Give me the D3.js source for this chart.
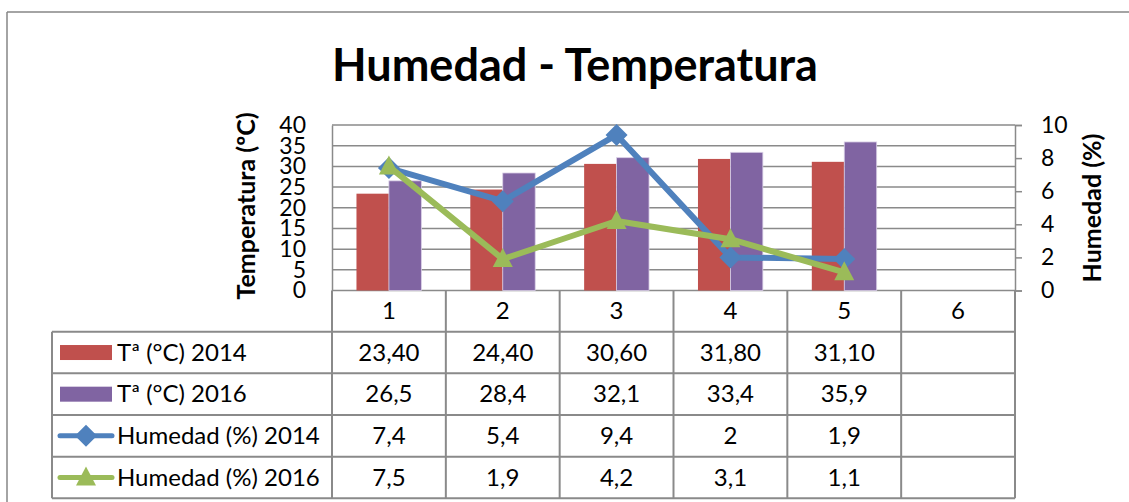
<!DOCTYPE html>
<html>
<head>
<meta charset="utf-8">
<script src="https://cdn.jsdelivr.net/npm/d3@7"></script>
<style>
  html, body { margin: 0; padding: 0; background: #fff; overflow: hidden; width: 1129px; height: 502px; }
  svg { position: absolute; left: 0; top: 0; display: block; font-family: Lato, "Open Sans", sans-serif; }
</style>
</head>
<body>
<svg id="chart" width="1129" height="502"></svg>
<script>
// ---- data ----
const categories = ["1", "2", "3", "4", "5", "6"];
const temp2014 = [23.4, 24.4, 30.6, 31.8, 31.1, null];
const temp2016 = [26.5, 28.4, 32.1, 33.4, 35.9, null];
const hum2014 = [7.4, 5.4, 9.4, 2, 1.9, null];
const hum2016 = [7.5, 1.9, 4.2, 3.1, 1.1, null];
const seriesNames = ["Tª (°C) 2014", "Tª (°C) 2016", "Humedad (%) 2014", "Humedad (%) 2016"];
const leftTicks = [0, 5, 10, 15, 20, 25, 30, 35, 40];
const rightTicks = [0, 2, 4, 6, 8, 10];
const title = "Humedad - Temperatura";
const leftTitle = "Temperatura (ºC)";
const rightTitle = "Humedad (%)";

// ---- layout ----
const svg = d3.select("#chart");
const W = 1129, H = 502;
const plot = { left: 332, right: 1015, top: 125, bottom: 290.5 };
const colors = { t14: "#C0504D", t16: "#8064A2", h14: "#4F81BD", h16: "#9BBB59" };
const gridColor = "#8a8a8a";
const fontSize = 23;
const tableFont = 24;

const x = d3.scaleBand().domain(categories).range([plot.left, plot.right]).paddingInner(0.43).paddingOuter(0.215);
const xStep = d3.scaleBand().domain(categories).range([plot.left, plot.right]);
const xSub = d3.scaleBand().domain([0, 1]).range([0, x.bandwidth()]);
const yL = d3.scaleLinear().domain([0, 40]).range([plot.bottom, plot.top]);
const yR = d3.scaleLinear().domain([0, 10]).range([plot.bottom, plot.top]);

// background
svg.append("rect").attr("x", 0).attr("y", 0).attr("width", W).attr("height", H).attr("fill", "#fff");

// outer chart border (only top and left edges are visible in the frame)
svg.append("line").attr("x1", 7).attr("x2", W).attr("y1", 12).attr("y2", 12)
  .attr("stroke", "#868686").attr("stroke-width", 1.5);
svg.append("line").attr("x1", 7).attr("x2", 7).attr("y1", 12).attr("y2", H)
  .attr("stroke", "#868686").attr("stroke-width", 1.5);

// title
svg.append("text").attr("x", 575).attr("y", 81).attr("text-anchor", "middle")
  .attr("font-weight", "bold").attr("font-size", 45).attr("fill", "#000").text(title);

// gridlines
svg.append("g").selectAll("line").data(leftTicks).join("line")
  .attr("x1", plot.left).attr("x2", plot.right)
  .attr("y1", d => yL(d)).attr("y2", d => yL(d))
  .attr("stroke", gridColor).attr("stroke-width", 1.5);

// left axis
const gL = svg.append("g").attr("transform", `translate(${plot.left},0)`)
  .call(d3.axisLeft(yL).tickValues(leftTicks).tickSize(0).tickPadding(26));
gL.select(".domain").attr("stroke", gridColor).attr("stroke-width", 1.5);
gL.selectAll("text").attr("font-size", fontSize).attr("font-family", "Lato").attr("fill", "#000");

// right axis
const gR = svg.append("g").attr("transform", `translate(${plot.right},0)`)
  .call(d3.axisRight(yR).tickValues(rightTicks).tickSize(7).tickPadding(19));
gR.select(".domain").attr("stroke", gridColor).attr("stroke-width", 1.5);
gR.selectAll("line").attr("stroke", gridColor).attr("stroke-width", 1.5);
gR.selectAll("text").attr("font-size", fontSize).attr("font-family", "Lato").attr("fill", "#000");

// axis titles
svg.append("text").attr("transform", `translate(255,206) rotate(-90)`).attr("text-anchor", "middle")
  .attr("font-weight", "bold").attr("font-size", 25).text(leftTitle);
svg.append("text").attr("transform", `translate(1101,208) rotate(-90)`).attr("text-anchor", "middle")
  .attr("font-weight", "bold").attr("font-size", 25).text(rightTitle);

// bars
const barData = categories.map((c, i) => ({ c, v: [temp2014[i], temp2016[i]] }));
const barG = svg.append("g");
barG.selectAll("g").data(barData).join("g")
  .attr("transform", d => `translate(${x(d.c)},0)`)
  .selectAll("rect").data(d => d.v.map((v, k) => ({ v, k })).filter(e => e.v != null)).join("rect")
  .attr("x", e => xSub(e.k)).attr("width", xSub.bandwidth())
  .attr("y", e => yL(e.v)).attr("height", e => yL(0) - yL(e.v))
  .attr("fill", e => e.k === 0 ? colors.t14 : colors.t16)
  .attr("stroke", e => e.k === 0 ? "none" : "#d9cfe6").attr("stroke-width", 0.8);

// lines
const cx = c => x(c) + x.bandwidth() / 2;
function drawLine(vals, color, marker) {
  const pts = categories.map((c, i) => ({ c, v: vals[i] })).filter(d => d.v != null);
  svg.append("path").datum(pts)
    .attr("d", d3.line().x(d => cx(d.c)).y(d => yR(d.v)))
    .attr("fill", "none").attr("stroke", color).attr("stroke-width", 6).attr("stroke-linejoin", "round");
  svg.append("g").selectAll("path").data(pts).join("path")
    .attr("transform", d => `translate(${cx(d.c)},${yR(d.v)})`)
    .attr("d", marker).attr("fill", color);
}
const diamond = "M0,-11L11,0L0,11L-11,0Z";
const triangle = "M0,-11L10,8L-10,8Z";
drawLine(hum2014, colors.h14, diamond);
drawLine(hum2016, colors.h16, triangle);

// ---- data table ----
const rowTop = 331.7, rowH = 41.65, tableLeft = 52;
const rows = [
  { name: seriesNames[0], vals: temp2014.map(v => v == null ? "" : v.toFixed(2).replace(".", ",")), type: "bar", color: colors.t14 },
  { name: seriesNames[1], vals: temp2016.map(v => v == null ? "" : String(v).replace(".", ",")), type: "bar", color: colors.t16 },
  { name: seriesNames[2], vals: hum2014.map(v => v == null ? "" : String(v).replace(".", ",")), type: "line", color: colors.h14, marker: diamond },
  { name: seriesNames[3], vals: hum2016.map(v => v == null ? "" : String(v).replace(".", ",")), type: "line", color: colors.h16, marker: triangle }
];
const tb = svg.append("g");
// header row (category labels)
tb.selectAll("text.hdr").data(categories).join("text").attr("class", "hdr")
  .attr("x", d => xStep(d) + xStep.bandwidth() / 2).attr("y", plot.bottom + 28.5)
  .attr("text-anchor", "middle").attr("font-size", tableFont).text(d => d);
// row lines
const tableBottom = rowTop + rowH * rows.length;
tb.selectAll("line.h").data(d3.range(rows.length + 1)).join("line").attr("class", "h")
  .attr("x1", tableLeft).attr("x2", plot.right)
  .attr("y1", i => rowTop + i * rowH).attr("y2", i => rowTop + i * rowH)
  .attr("stroke", gridColor).attr("stroke-width", 2);
// vertical lines
const vx = [plot.left].concat(categories.map(c => xStep(c) + xStep.bandwidth()));
tb.selectAll("line.v").data(vx).join("line").attr("class", "v")
  .attr("x1", d => d).attr("x2", d => d).attr("y1", plot.bottom).attr("y2", tableBottom)
  .attr("stroke", gridColor).attr("stroke-width", 2);
tb.append("line").attr("x1", tableLeft).attr("x2", tableLeft).attr("y1", rowTop).attr("y2", tableBottom)
  .attr("stroke", gridColor).attr("stroke-width", 2);
// rows
rows.forEach((r, i) => {
  const y0 = rowTop + i * rowH, yc = y0 + rowH / 2;
  if (r.type === "bar") {
    tb.append("rect").attr("x", 60).attr("y", yc - 7.5).attr("width", 52).attr("height", 15).attr("fill", r.color);
  } else {
    tb.append("line").attr("x1", 60).attr("x2", 112).attr("y1", yc).attr("y2", yc)
      .attr("stroke", r.color).attr("stroke-width", 5).attr("stroke-linecap", "round");
    tb.append("path").attr("transform", `translate(86,${yc})`).attr("d", r.marker).attr("fill", r.color);
  }
  tb.append("text").attr("x", 117).attr("y", y0 + 29).attr("font-size", tableFont).text(r.name);
  tb.selectAll(null).data(categories).join("text")
    .attr("x", c => xStep(c) + xStep.bandwidth() / 2).attr("y", y0 + 29)
    .attr("text-anchor", "middle").attr("font-size", tableFont)
    .text((c, k) => r.vals[k]);
});
</script>
</body>
</html>
